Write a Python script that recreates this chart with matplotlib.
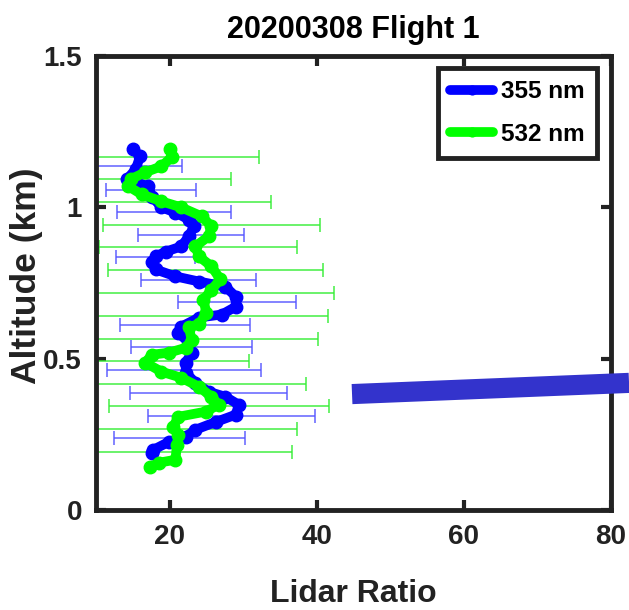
import matplotlib
matplotlib.use("Agg")
import matplotlib.pyplot as plt

plt.rcParams['font.family'] = ['Liberation Sans', 'DejaVu Sans']
plt.rcParams['font.weight'] = 'bold'

# lidar ratio profiles (altitude in km)
alt_355 = [1.192, 1.169, 1.126, 1.093, 1.070, 1.036, 1.000, 0.983, 0.960, 0.937,
           0.904, 0.871, 0.854, 0.838, 0.818, 0.795, 0.772, 0.755, 0.738, 0.705,
           0.672, 0.646, 0.636, 0.606, 0.586, 0.553, 0.520, 0.487, 0.454, 0.421,
           0.391, 0.374, 0.348, 0.315, 0.291, 0.265, 0.242, 0.225, 0.199, 0.189]
lr_355 = [15.0, 16.0, 15.4, 14.2, 17.1, 17.6, 18.9, 20.8, 22.6, 23.3,
          22.6, 21.6, 19.5, 18.1, 17.6, 18.1, 20.8, 24.0, 27.6, 29.0,
          29.0, 27.1, 24.0, 21.6, 21.2, 22.6, 23.0, 22.2, 22.2, 23.5,
          25.3, 27.6, 29.4, 29.0, 26.3, 23.5, 22.2, 19.9, 17.8, 17.6]

alt_532 = [1.192, 1.166, 1.136, 1.116, 1.093, 1.070, 1.043, 1.020, 1.000, 0.970,
           0.937, 0.904, 0.871, 0.838, 0.805, 0.762, 0.728, 0.695, 0.652, 0.613,
           0.606, 0.563, 0.536, 0.520, 0.513, 0.487, 0.457, 0.437, 0.407, 0.374,
           0.348, 0.325, 0.308, 0.275, 0.248, 0.215, 0.166, 0.156, 0.142]
lr_532 = [20.1, 20.3, 18.9, 16.7, 14.7, 14.4, 16.2, 18.9, 21.6, 24.4,
          25.7, 25.3, 23.5, 24.0, 25.7, 26.9, 25.7, 24.6, 25.0, 24.0,
          22.6, 23.0, 22.2, 19.9, 17.6, 16.7, 18.9, 21.6, 24.0, 25.7,
          26.7, 24.9, 21.2, 20.5, 21.2, 21.0, 20.8, 18.5, 17.4]

# error bars
eb_alt_355 = [1.136, 1.059, 0.985, 0.908, 0.835, 0.760, 0.686, 0.611, 0.537,
              0.462, 0.388, 0.312, 0.237]
eb_lr_355 = [15.5, 17.5, 20.6, 22.9, 18.1, 23.9, 29.15, 22.05, 23.0,
             21.95, 25.3, 28.4, 21.4]
eb_err_355 = [6.2, 6.1, 7.8, 7.2, 5.4, 7.8, 8.05, 8.85, 8.2,
              10.45, 10.7, 11.3, 8.9]

eb_alt_532 = [1.168, 1.093, 1.018, 0.941, 0.868, 0.792, 0.718, 0.642, 0.566,
              0.491, 0.416, 0.342, 0.267, 0.192]
eb_lr_532 = [20.3, 14.7, 19.0, 25.75, 23.85, 26.25, 25.3, 24.8, 23.0,
             16.8, 23.3, 26.75, 20.9, 20.9]
eb_err_532 = [11.9, 13.6, 14.8, 14.75, 13.45, 14.55, 17.0, 16.7, 17.2,
              14.0, 15.2, 14.95, 16.4, 15.7]

fig = plt.figure(figsize=(6.29, 6.10), dpi=100)
ax = fig.add_axes([0.1526, 0.164, 0.8188, 0.744])

ax.errorbar(eb_lr_355, eb_alt_355, xerr=eb_err_355, fmt='none', ecolor='#5555ff',
            elinewidth=1.2, capsize=5, capthick=1.2, alpha=0.85, zorder=2)
ax.errorbar(eb_lr_532, eb_alt_532, xerr=eb_err_532, fmt='none', ecolor='#33ee33',
            elinewidth=1.2, capsize=5, capthick=1.2, alpha=0.85, zorder=2)

ax.plot(lr_355, alt_355, color='#0000ff', lw=7, marker='o', ms=9,
        solid_capstyle='round', label='355 nm', zorder=3)
ax.plot(lr_532, alt_532, color='#00ff00', lw=7, marker='o', ms=9,
        solid_capstyle='round', label='532 nm', zorder=4)

# thick bar drawn across the right side
ax.plot([44.8, 82.45], [0.383, 0.42], color='#3333cc', lw=14.5,
        solid_capstyle='butt', clip_on=False, zorder=5)

ax.set_xlim(10, 80)
ax.set_ylim(0, 1.5)
ax.set_xticks([20, 40, 60, 80])
ax.set_yticks([0, 0.5, 1, 1.5])
ax.set_yticklabels(['0', '0.5', '1', '1.5'])

for s in ax.spines.values():
    s.set_linewidth(3.5)
    s.set_color('#222222')
ax.tick_params(direction='in', length=7, width=3, color='#222222',
               top=True, right=True, labelsize=20, pad=10)
for lbl in ax.get_xticklabels() + ax.get_yticklabels():
    lbl.set_fontweight('bold')
    lbl.set_color('#222222')

ax.set_title('20200308 Flight 1', fontsize=22, fontweight='bold', pad=13)
ax.set_xlabel('Lidar Ratio', fontsize=23, fontweight='bold', color='#222222')
ax.xaxis.set_label_coords(0.5, -0.152)
ax.set_ylabel('Altitude (km)', fontsize=25.5, fontweight='bold', color='#222222')
ax.yaxis.set_label_coords(-0.102, 0.515)

leg = ax.legend(loc='upper right', bbox_to_anchor=(0.973, 0.974), fontsize=17.5,
                frameon=True, fancybox=False, framealpha=1, handlelength=1.75,
                handletextpad=0.35, borderpad=0.5, labelspacing=0.8,
                borderaxespad=0, markerscale=0.7)
leg.get_frame().set_edgecolor('#222222')
leg.get_frame().set_linewidth(3.5)
for t in leg.get_texts():
    t.set_fontweight('bold')

fig.savefig('out.png', dpi=100)
